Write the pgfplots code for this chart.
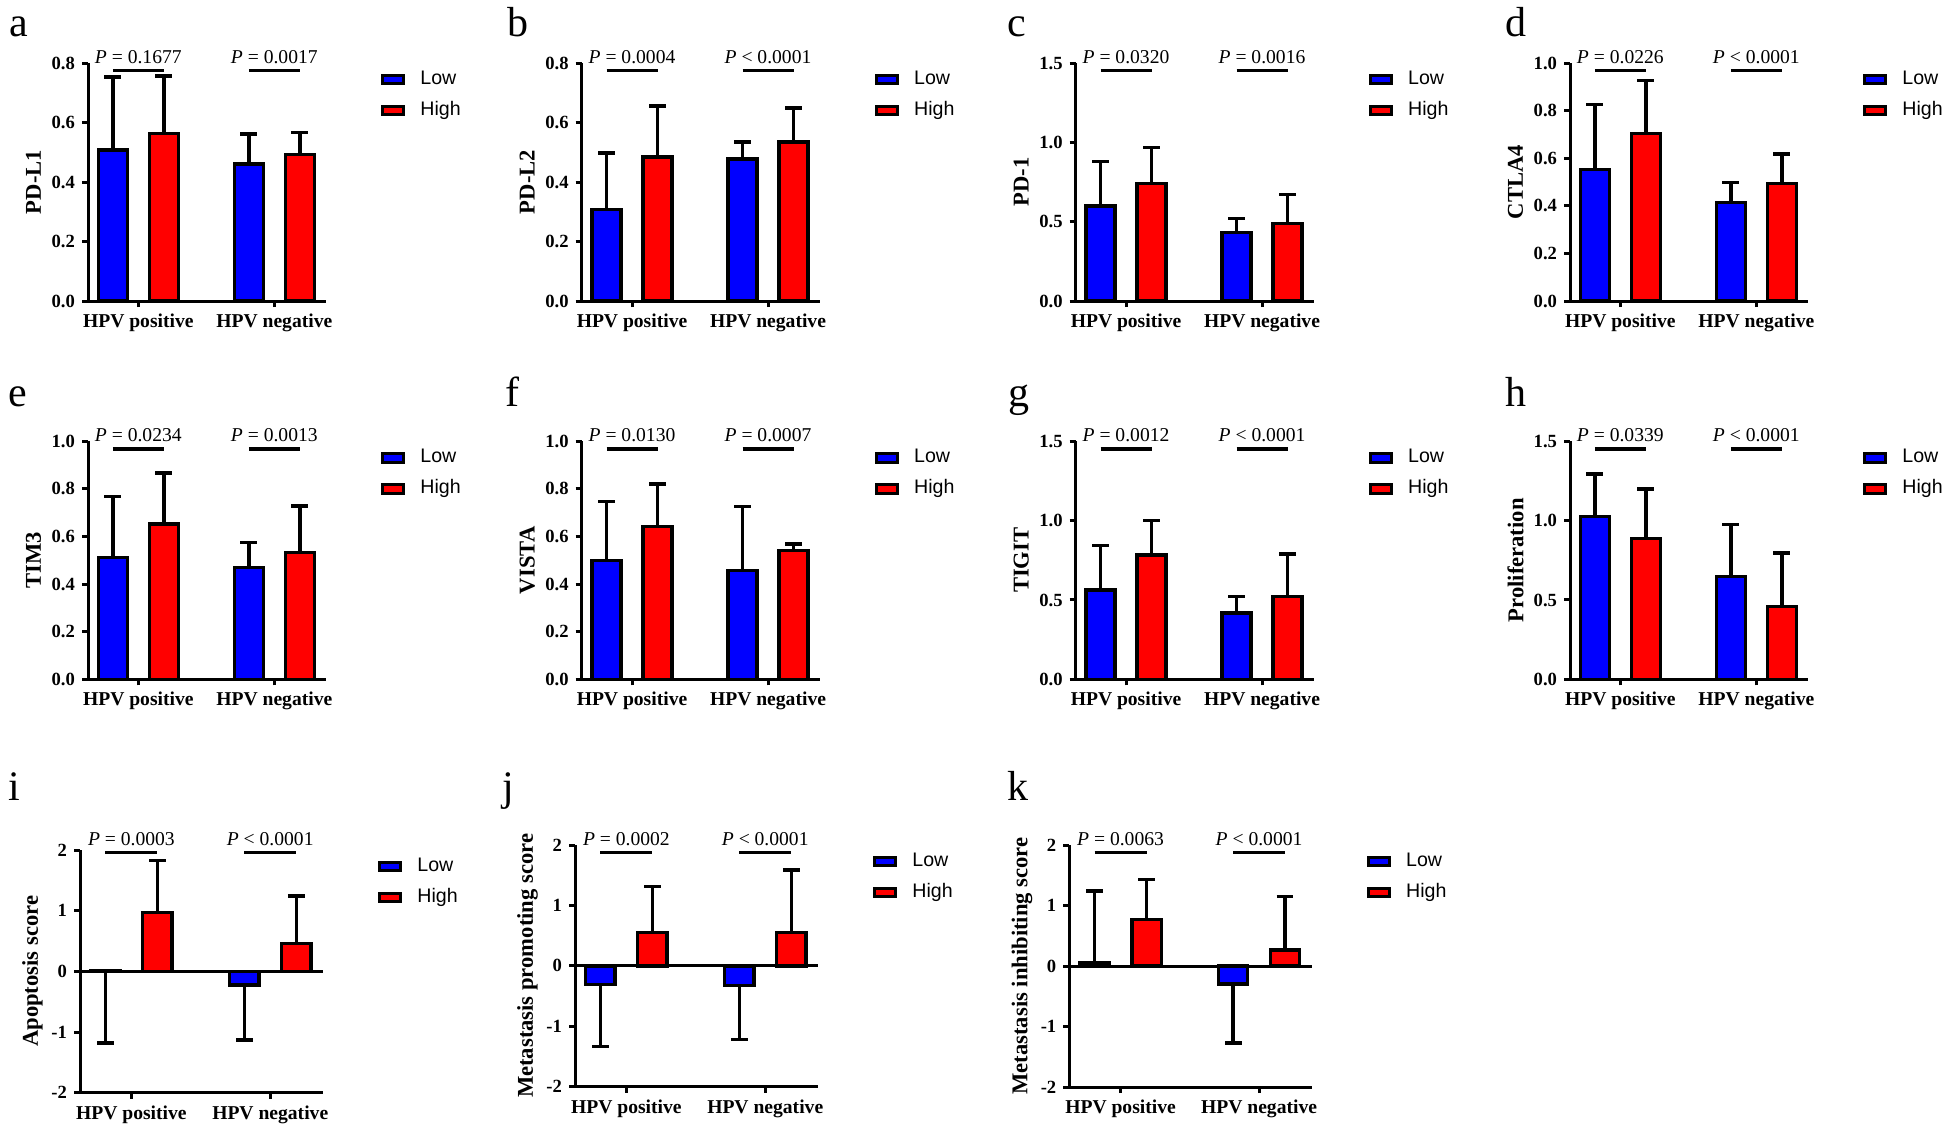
\documentclass[border=0pt]{standalone}
\usepackage{fontspec}
\setmainfont{Liberation Serif}
\newfontfamily\arialfont{Liberation Sans}
\usepackage{pgfplots}
\pgfplotsset{compat=1.18}
\definecolor{mblue}{RGB}{0,0,255}
\definecolor{mred}{RGB}{255,0,0}
\newcommand\yfont{\fontsize{9.3}{11}\selectfont\bfseries}
\newcommand\xfont{\fontsize{9.8}{11}\selectfont\bfseries}
\newcommand\labfont{\fontsize{11.3}{13}\selectfont\bfseries}
\newcommand\pfont{\fontsize{9.8}{11}\selectfont}
\newcommand\legfont{\arialfont\fontsize{9.8}{11}\selectfont}
\newcommand\letfont{\fontsize{21}{21}\selectfont}
\tikzset{ptext/.style={anchor=base, font=\pfont, inner sep=0pt}}
\pgfplotsset{
  panel/.style={
    scale only axis, anchor=south west,
    axis x line*=bottom, axis y line*=left,
    axis line style={line width=1.5pt, -, black},
    width=119pt, height=119pt,
    xmin=-0.37, xmax=1.38,
    xtick={0,1}, xticklabels={HPV positive,HPV negative},
    tick align=outside, major tick length=3pt,
    major tick style={line width=1.5pt, black},
    minor tick num=0,
    xticklabel style={font=\xfont},
    yticklabel style={font=\yfont},
    ylabel style={font=\labfont, at={(axis description cs:-0.229,0.5)}, anchor=center},
    clip=false,
    legend cell align=left,
    legend style={draw=none, fill=none, at={(axis description cs:1,1)}, anchor=north west,
      xshift=27.5pt, yshift=-3.5pt, font=\legfont, inner sep=0pt, row sep=6.5pt,
      nodes={inner sep=0pt, text height=7pt, text depth=2pt},
      /tikz/every odd column/.append style={column sep=7.5pt}},
  },
  row3/.style={ymin=-2, ymax=2, ytick={-2,-1,0,1,2}, yticklabels={-2,-1,0,1,2},
    ylabel style={at={(axis description cs:-0.1955,0.5)}}},
  lowbar/.style={ybar, bar width=0.212, bar shift=0pt, draw=black, line width=1.7pt, fill=mblue,
     error bars/y dir=both, error bars/y explicit,
     error bars/error bar style={line width=1.7pt, black},
     error bars/error mark options={rotate=90, line width=1.7pt, mark size=4.2pt, black},
     legend image code/.code={\draw[##1, line width=1.5pt] (0pt,-2.2pt) rectangle (10.5pt,2.2pt);}},
  highbar/.style={lowbar, fill=mred},
  sig/.style={forget plot, line width=1.6pt, black, mark=none},
  zeroline/.style={forget plot, line width=1.5pt, black, mark=none},
}
\begin{document}
\begin{tikzpicture}
\path[use as bounding box] (0pt,0pt) rectangle (973pt,-565pt);
\node[anchor=base west, inner sep=0pt, font=\letfont] at (4.5pt,-18pt) {a};
\node[anchor=base west, inner sep=0pt, font=\letfont] at (253.3pt,-18pt) {b};
\node[anchor=base west, inner sep=0pt, font=\letfont] at (503.3pt,-18pt) {c};
\node[anchor=base west, inner sep=0pt, font=\letfont] at (752.5pt,-18pt) {d};
\node[anchor=base west, inner sep=0pt, font=\letfont] at (4.2pt,-203pt) {e};
\node[anchor=base west, inner sep=0pt, font=\letfont] at (252.5pt,-203pt) {f};
\node[anchor=base west, inner sep=0pt, font=\letfont] at (504pt,-203pt) {g};
\node[anchor=base west, inner sep=0pt, font=\letfont] at (752.5pt,-203pt) {h};
\node[anchor=base west, inner sep=0pt, font=\letfont] at (4.2pt,-400pt) {i};
\node[anchor=base west, inner sep=0pt, font=\letfont] at (250.8pt,-400pt) {j};
\node[anchor=base west, inner sep=0pt, font=\letfont] at (503.3pt,-400pt) {k};

% a
\begin{axis}[panel, at={(44pt,-150.5pt)}, ymin=0, ymax=0.8, ytick={0,0.2,0.4,0.6,0.8}, yticklabels={0.0,0.2,0.4,0.6,0.8}, ylabel={PD-L1}]
\addplot[sig] coordinates {(-0.1875,0.7755) (0.1875,0.7755)};
\addplot[sig] coordinates {(0.8125,0.7755) (1.1875,0.7755)};
\addplot[lowbar] coordinates {(-0.1875,0.507) += (0,0.246) -= (0,0) (0.8125,0.460) += (0,0.101) -= (0,0)};
\addplot[highbar] coordinates {(0.1875,0.563) += (0,0.193) -= (0,0) (1.1875,0.493) += (0,0.073) -= (0,0)};
\legend{Low,High}
\node[ptext] at (axis cs:0,0.8) {\textit{P} = 0.1677};
\node[ptext] at (axis cs:1,0.8) {\textit{P} = 0.0017};
\end{axis}

% b
\begin{axis}[panel, at={(290.85pt,-150.5pt)}, ymin=0, ymax=0.8, ytick={0,0.2,0.4,0.6,0.8}, yticklabels={0.0,0.2,0.4,0.6,0.8}, ylabel={PD-L2}]
\addplot[sig] coordinates {(-0.1875,0.7755) (0.1875,0.7755)};
\addplot[sig] coordinates {(0.8125,0.7755) (1.1875,0.7755)};
\addplot[lowbar] coordinates {(-0.1875,0.308) += (0,0.190) -= (0,0) (0.8125,0.477) += (0,0.058) -= (0,0)};
\addplot[highbar] coordinates {(0.1875,0.484) += (0,0.171) -= (0,0) (1.1875,0.535) += (0,0.114) -= (0,0)};
\legend{Low,High}
\node[ptext] at (axis cs:0,0.8) {\textit{P} = 0.0004};
\node[ptext] at (axis cs:1,0.8) {\textit{P} < 0.0001};
\end{axis}

% c
\begin{axis}[panel, at={(537.85pt,-150.5pt)}, ymin=0, ymax=1.5, ytick={0,0.5,1,1.5}, yticklabels={0.0,0.5,1.0,1.5}, ylabel={PD-1}]
\addplot[sig] coordinates {(-0.1875,1.454) (0.1875,1.454)};
\addplot[sig] coordinates {(0.8125,1.454) (1.1875,1.454)};
\addplot[lowbar] coordinates {(-0.1875,0.598) += (0,0.281) -= (0,0) (0.8125,0.432) += (0,0.088) -= (0,0)};
\addplot[highbar] coordinates {(0.1875,0.741) += (0,0.226) -= (0,0) (1.1875,0.489) += (0,0.182) -= (0,0)};
\legend{Low,High}
\node[ptext] at (axis cs:0,1.5) {\textit{P} = 0.0320};
\node[ptext] at (axis cs:1,1.5) {\textit{P} = 0.0016};
\end{axis}

% d
\begin{axis}[panel, at={(785pt,-150.5pt)}, ymin=0, ymax=1, ytick={0,0.2,0.4,0.6,0.8,1}, yticklabels={0.0,0.2,0.4,0.6,0.8,1.0}, ylabel={CTLA4}]
\addplot[sig] coordinates {(-0.1875,0.969) (0.1875,0.969)};
\addplot[sig] coordinates {(0.8125,0.969) (1.1875,0.969)};
\addplot[lowbar] coordinates {(-0.1875,0.552) += (0,0.273) -= (0,0) (0.8125,0.413) += (0,0.085) -= (0,0)};
\addplot[highbar] coordinates {(0.1875,0.703) += (0,0.224) -= (0,0) (1.1875,0.494) += (0,0.123) -= (0,0)};
\legend{Low,High}
\node[ptext] at (axis cs:0,1) {\textit{P} = 0.0226};
\node[ptext] at (axis cs:1,1) {\textit{P} < 0.0001};
\end{axis}

% e
\begin{axis}[panel, at={(44pt,-339.65pt)}, ymin=0, ymax=1, ytick={0,0.2,0.4,0.6,0.8,1}, yticklabels={0.0,0.2,0.4,0.6,0.8,1.0}, ylabel={TIM3}]
\addplot[sig] coordinates {(-0.1875,0.968) (0.1875,0.968)};
\addplot[sig] coordinates {(0.8125,0.968) (1.1875,0.968)};
\addplot[lowbar] coordinates {(-0.1875,0.512) += (0,0.257) -= (0,0) (0.8125,0.470) += (0,0.105) -= (0,0)};
\addplot[highbar] coordinates {(0.1875,0.652) += (0,0.215) -= (0,0) (1.1875,0.534) += (0,0.195) -= (0,0)};
\legend{Low,High}
\node[ptext] at (axis cs:0,1) {\textit{P} = 0.0234};
\node[ptext] at (axis cs:1,1) {\textit{P} = 0.0013};
\end{axis}

% f
\begin{axis}[panel, at={(290.85pt,-339.65pt)}, ymin=0, ymax=1, ytick={0,0.2,0.4,0.6,0.8,1}, yticklabels={0.0,0.2,0.4,0.6,0.8,1.0}, ylabel={VISTA}]
\addplot[sig] coordinates {(-0.1875,0.968) (0.1875,0.968)};
\addplot[sig] coordinates {(0.8125,0.968) (1.1875,0.968)};
\addplot[lowbar] coordinates {(-0.1875,0.498) += (0,0.250) -= (0,0) (0.8125,0.457) += (0,0.269) -= (0,0)};
\addplot[highbar] coordinates {(0.1875,0.642) += (0,0.178) -= (0,0) (1.1875,0.541) += (0,0.028) -= (0,0)};
\legend{Low,High}
\node[ptext] at (axis cs:0,1) {\textit{P} = 0.0130};
\node[ptext] at (axis cs:1,1) {\textit{P} = 0.0007};
\end{axis}

% g
\begin{axis}[panel, at={(537.85pt,-339.65pt)}, ymin=0, ymax=1.5, ytick={0,0.5,1,1.5}, yticklabels={0.0,0.5,1.0,1.5}, ylabel={TIGIT}]
\addplot[sig] coordinates {(-0.1875,1.452) (0.1875,1.452)};
\addplot[sig] coordinates {(0.8125,1.452) (1.1875,1.452)};
\addplot[lowbar] coordinates {(-0.1875,0.564) += (0,0.278) -= (0,0) (0.8125,0.417) += (0,0.105) -= (0,0)};
\addplot[highbar] coordinates {(0.1875,0.783) += (0,0.218) -= (0,0) (1.1875,0.522) += (0,0.267) -= (0,0)};
\legend{Low,High}
\node[ptext] at (axis cs:0,1.5) {\textit{P} = 0.0012};
\node[ptext] at (axis cs:1,1.5) {\textit{P} < 0.0001};
\end{axis}

% h
\begin{axis}[panel, at={(785pt,-339.65pt)}, ymin=0, ymax=1.5, ytick={0,0.5,1,1.5}, yticklabels={0.0,0.5,1.0,1.5}, ylabel={Proliferation}]
\addplot[sig] coordinates {(-0.1875,1.452) (0.1875,1.452)};
\addplot[sig] coordinates {(0.8125,1.452) (1.1875,1.452)};
\addplot[lowbar] coordinates {(-0.1875,1.027) += (0,0.267) -= (0,0) (0.8125,0.648) += (0,0.326) -= (0,0)};
\addplot[highbar] coordinates {(0.1875,0.886) += (0,0.313) -= (0,0) (1.1875,0.459) += (0,0.336) -= (0,0)};
\legend{Low,High}
\node[ptext] at (axis cs:0,1.5) {\textit{P} = 0.0339};
\node[ptext] at (axis cs:1,1.5) {\textit{P} < 0.0001};
\end{axis}

% i
\begin{axis}[panel, row3, at={(40pt,-546.35pt)}, width=121.5pt, height=121.35pt, ylabel={Apoptosis score}]
\addplot[zeroline] coordinates {(-0.37,0) (1.38,0)};
\addplot[sig] coordinates {(-0.1875,1.955) (0.1875,1.955)};
\addplot[sig] coordinates {(0.8125,1.955) (1.1875,1.955)};
\addplot[lowbar] coordinates {(-0.1875,0.01) += (0,0) -= (0,1.19) (0.8125,-0.225) += (0,0) -= (0,0.905)};
\addplot[highbar] coordinates {(0.1875,0.967) += (0,0.857) -= (0,0) (1.1875,0.462) += (0,0.780) -= (0,0)};
\legend{Low,High}
\node[ptext] at (axis cs:0,2.082) {\textit{P} = 0.0003};
\node[ptext] at (axis cs:1,2.082) {\textit{P} < 0.0001};
\end{axis}

% j
\begin{axis}[panel, row3, at={(287.5pt,-543.35pt)}, width=121.5pt, height=120.85pt, ylabel={Metastasis promoting score}]
\addplot[zeroline] coordinates {(-0.37,0) (1.38,0)};
\addplot[sig] coordinates {(-0.1875,1.873) (0.1875,1.873)};
\addplot[sig] coordinates {(0.8125,1.873) (1.1875,1.873)};
\addplot[lowbar] coordinates {(-0.1875,-0.306) += (0,0) -= (0,1.032) (0.8125,-0.328) += (0,0) -= (0,0.889)};
\addplot[highbar] coordinates {(0.1875,0.549) += (0,0.761) -= (0,0) (1.1875,0.554) += (0,1.032) -= (0,0)};
\legend{Low,High}
\node[ptext] at (axis cs:0,2) {\textit{P} = 0.0002};
\node[ptext] at (axis cs:1,2) {\textit{P} < 0.0001};
\end{axis}

% k
\begin{axis}[panel, row3, at={(534.65pt,-543.5pt)}, width=121.2pt, height=121pt, ylabel={Metastasis inhibiting score}]
\addplot[zeroline] coordinates {(-0.37,0) (1.38,0)};
\addplot[sig] coordinates {(-0.1875,1.873) (0.1875,1.873)};
\addplot[sig] coordinates {(0.8125,1.873) (1.1875,1.873)};
\addplot[lowbar] coordinates {(-0.1875,0.063) += (0,1.177) -= (0,0) (0.8125,-0.294) += (0,0) -= (0,0.980)};
\addplot[highbar] coordinates {(0.1875,0.773) += (0,0.660) -= (0,0) (1.1875,0.267) += (0,0.880) -= (0,0)};
\legend{Low,High}
\node[ptext] at (axis cs:0,2) {\textit{P} = 0.0063};
\node[ptext] at (axis cs:1,2) {\textit{P} < 0.0001};
\end{axis}
\end{tikzpicture}
\end{document}
